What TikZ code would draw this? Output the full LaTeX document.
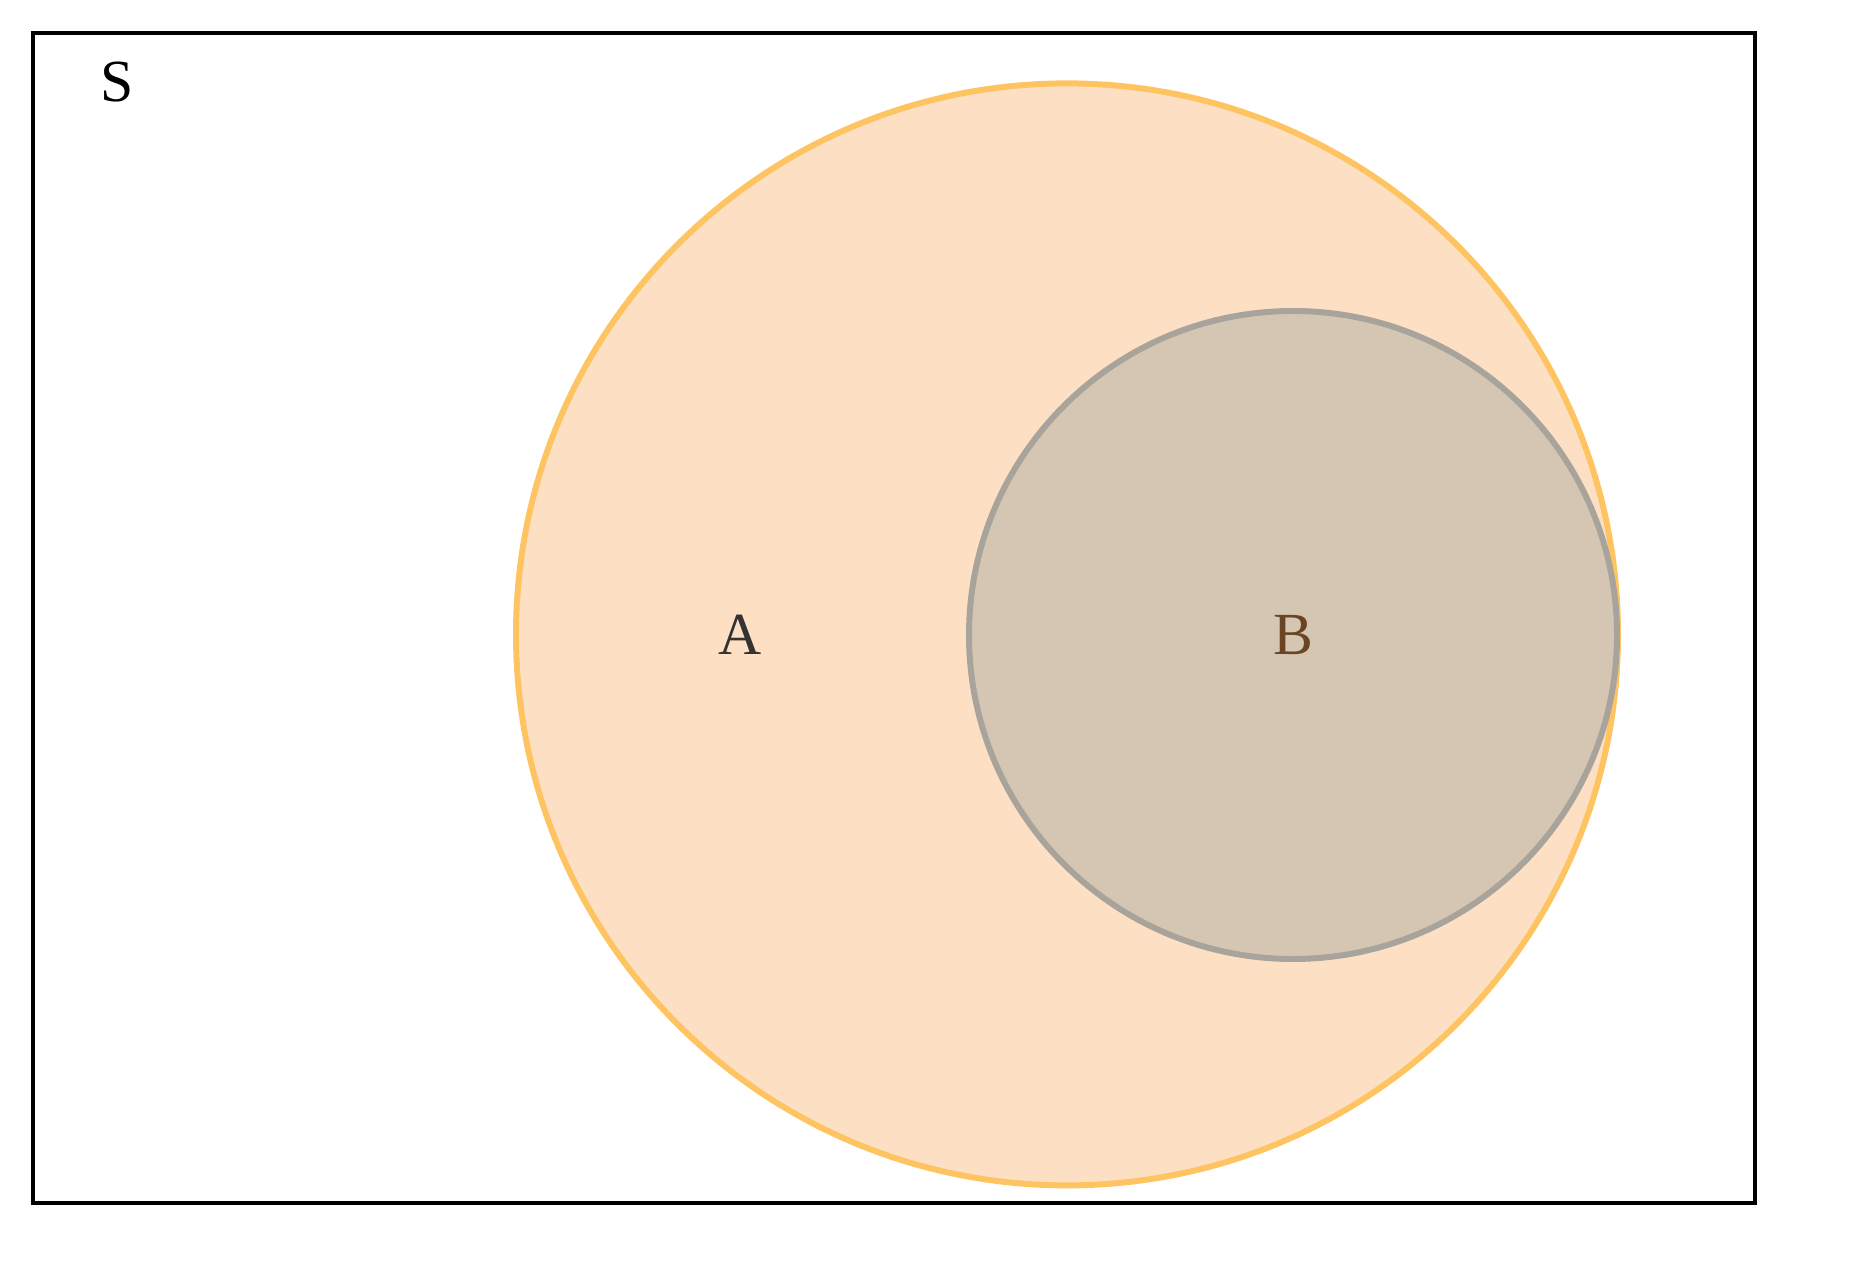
\documentclass[tikz,border=0pt]{standalone}
\usepackage{fontspec}
\setmainfont{Liberation Serif}
\usepackage{xcolor}
\usepackage{tikz}
\usetikzlibrary{positioning}

\definecolor{peach}{HTML}{FDDFC4}
\definecolor{peachline}{HTML}{FFC462}
\definecolor{taupe}{HTML}{D5C6B3}
\definecolor{taupeline}{HTML}{A8A39B}
\definecolor{bbrown}{HTML}{6B4423}

\begin{document}
\begin{tikzpicture}
      [ setA/.style={circle, draw=peachline, fill=peach, line width=1.7pt,
                     minimum size=11.02cm, inner sep=0pt},
        setB/.style={circle, draw=taupeline, fill=taupe, line width=1.7pt,
                     minimum size=6.48cm, inner sep=0pt},
        label/.style={font=\fontsize{17}{20}\selectfont}
      ]
      \useasboundingbox (0,0) rectangle (18.56,12.70);
      \draw[line width=1pt] (0.33,0.67) rectangle (17.55,12.37);
      \node[label]            (S)    at (1.17,11.88)             {S};
      \node[setA]             (A)    at (10.67,6.356)            {};
      \node[setB]             (B)    at (12.93,6.35)             {};
      \node[label,text=black!80] (Alab) at (7.40,6.35)           {A};
      \node[label,text=bbrown]   (Blab) at (B.center)            {B};
    \end{tikzpicture}
\end{document}
